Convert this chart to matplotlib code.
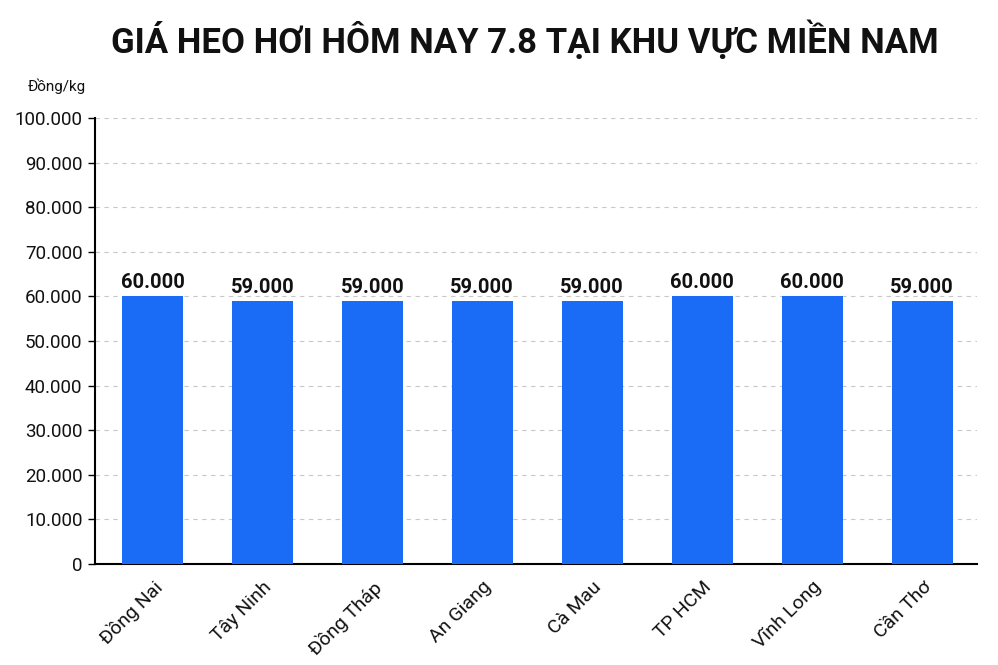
import matplotlib
matplotlib.use('Agg')
import matplotlib.pyplot as plt

# Giá heo hơi miền Nam ngày 7.8 (đồng/kg)
provinces = ['Đồng Nai', 'Tây Ninh', 'Đồng Tháp', 'An Giang',
             'Cà Mau', 'TP HCM', 'Vĩnh Long', 'Cần Thơ']
prices = [60000, 59000, 59000, 59000, 59000, 60000, 60000, 59000]
yticks = [0, 10000, 20000, 30000, 40000, 50000, 60000, 70000, 80000, 90000, 100000]

def fmt(v):
    # dấu chấm phân cách hàng nghìn
    return f'{v:,}'.replace(',', '.')

plt.rcParams['font.family'] = ['Roboto', 'DejaVu Sans']

fig = plt.figure(figsize=(9.98, 6.65), dpi=100)
ax = fig.add_axes([95/998, 1-564/665, 882/998, 446/665])

x = range(len(provinces))
ax.bar(x, prices, width=0.555, color='#1A6CF7', zorder=3)
for i, p in zip(x, prices):
    ax.text(i, p + 900, fmt(p), ha='center', va='bottom',
            fontsize=14.5, fontweight='bold', color='#111111')

ax.set_xlim(-0.523, 7.50)
ax.set_ylim(0, 100000)
ax.set_yticks(yticks)
ax.set_yticklabels([fmt(v) for v in yticks], fontsize=13.5, color='#111111')
ax.set_xticks(list(x))
ax.set_xticklabels(provinces, rotation=45, ha='right', rotation_mode='anchor',
                   fontsize=14, color='#111111')
ax.tick_params(axis='x', length=0, pad=10)
ax.tick_params(axis='y', length=5, width=1, pad=4)

ax.grid(axis='y', linestyle=(0, (4, 4)), color='#c8c8c8', linewidth=0.8, zorder=0)
for s in ['top', 'right']:
    ax.spines[s].set_visible(False)
ax.spines['left'].set_linewidth(1.5)
ax.spines['bottom'].set_linewidth(1.5)

fig.text(525/998, 1-40/665, 'GIÁ HEO HƠI HÔM NAY 7.8 TẠI KHU VỰC MIỀN NAM',
         ha='center', va='center', fontsize=25, fontweight='bold', color='#111111')
fig.text(28/998, 1-86/665, 'Đồng/kg', ha='left', va='center', fontsize=11, color='#111111')

fig.savefig('out.png', dpi=100)
